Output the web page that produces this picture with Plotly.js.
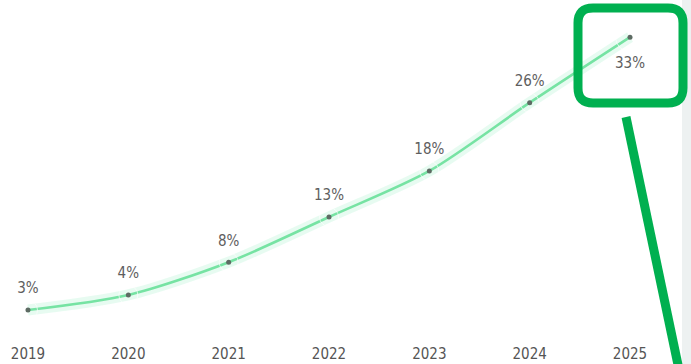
<!DOCTYPE html>
<html>
<head>
<meta charset="utf-8">
<script src="https://cdn.plot.ly/plotly-3.0.1.min.js"></script>
<style>html,body{margin:0;padding:0;background:#fff;}#chart{width:691px;height:364px;}</style>
</head>
<body>
<div id="chart"></div>
<script>
var years = ["2019", "2020", "2021", "2022", "2023", "2024", "2025"];
var shareValues = [2.6, 4.3, 8.0, 13.1, 18.3, 26.0, 33.4];
var labelPositions = ["top center", "top center", "top center", "top center", "top center", "top center", "bottom center"];

var FONT = '"DejaVu Sans Condensed", "Liberation Sans Narrow", "DejaVu Sans", sans-serif';

var glow = {
  x: years, y: shareValues, type: 'scatter', mode: 'lines',
  line: {shape: 'spline', smoothing: 0.8, color: 'rgba(120,235,175,0.18)', width: 11},
  hoverinfo: 'skip', showlegend: false
};
var main = {
  x: years, y: shareValues, type: 'scatter', mode: 'lines+markers',
  line: {shape: 'spline', smoothing: 0.8, color: '#76e3a3', width: 2.6},
  marker: {size: 5, color: '#5d6b63'},
  showlegend: false
};
var labels = {
  x: years, y: shareValues, type: 'scatter', mode: 'markers+text',
  marker: {size: [19, 19, 19, 19, 19, 19, 29], color: 'rgba(0,0,0,0)'},
  texttemplate: '%{y:.0f}%',
  textposition: labelPositions,
  textfont: {family: FONT, size: 15, color: '#5e5e5e'},
  cliponaxis: false,
  hoverinfo: 'skip', showlegend: false
};

function px(x) { return x / 691; }
function py(y) { return 1 - y / 336; }
var x0 = px(578), x1 = px(683), y0 = py(8), y1 = py(103);
var rx = 15 / 691, ry = 15 / 336;
var rectPath = 'M ' + (x0 + rx) + ',' + y0 + ' L ' + (x1 - rx) + ',' + y0 +
  ' Q ' + x1 + ',' + y0 + ' ' + x1 + ',' + (y0 - ry) +
  ' L ' + x1 + ',' + (y1 + ry) +
  ' Q ' + x1 + ',' + y1 + ' ' + (x1 - rx) + ',' + y1 +
  ' L ' + (x0 + rx) + ',' + y1 +
  ' Q ' + x0 + ',' + y1 + ' ' + x0 + ',' + (y1 + ry) +
  ' L ' + x0 + ',' + (y0 - ry) +
  ' Q ' + x0 + ',' + y0 + ' ' + (x0 + rx) + ',' + y0 + ' Z';

var layout = {
  width: 691, height: 364,
  margin: {l: 0, r: 0, t: 0, b: 28, pad: 0},
  paper_bgcolor: '#ffffff', plot_bgcolor: 'rgba(0,0,0,0)',
  xaxis: {
    type: 'category', range: [-0.279, 6.608],
    showgrid: false, zeroline: false, showline: false, ticks: '',
    ticklabelstandoff: 7,
    tickfont: {family: FONT, size: 15, color: '#555555'}
  },
  yaxis: {
    range: [-0.33, 37.59], visible: false, showgrid: false, zeroline: false
  },
  shapes: [
    {type: 'rect', xref: 'paper', yref: 'paper', x0: px(682), x1: 1.01, y0: -0.2, y1: 1.01,
     fillcolor: '#edf1f1', line: {width: 0}, layer: 'below'},
    {type: 'path', xref: 'paper', yref: 'paper', path: rectPath,
     line: {color: '#00b050', width: 9}, fillcolor: 'rgba(0,0,0,0)'},
    {type: 'line', xref: 'paper', yref: 'paper', x0: px(626), y0: py(117), x1: px(679.5), y1: py(372),
     line: {color: '#00b050', width: 9}}
  ]
};

Plotly.newPlot('chart', [glow, main, labels], layout, {displayModeBar: false, staticPlot: true});
</script>
</body>
</html>
